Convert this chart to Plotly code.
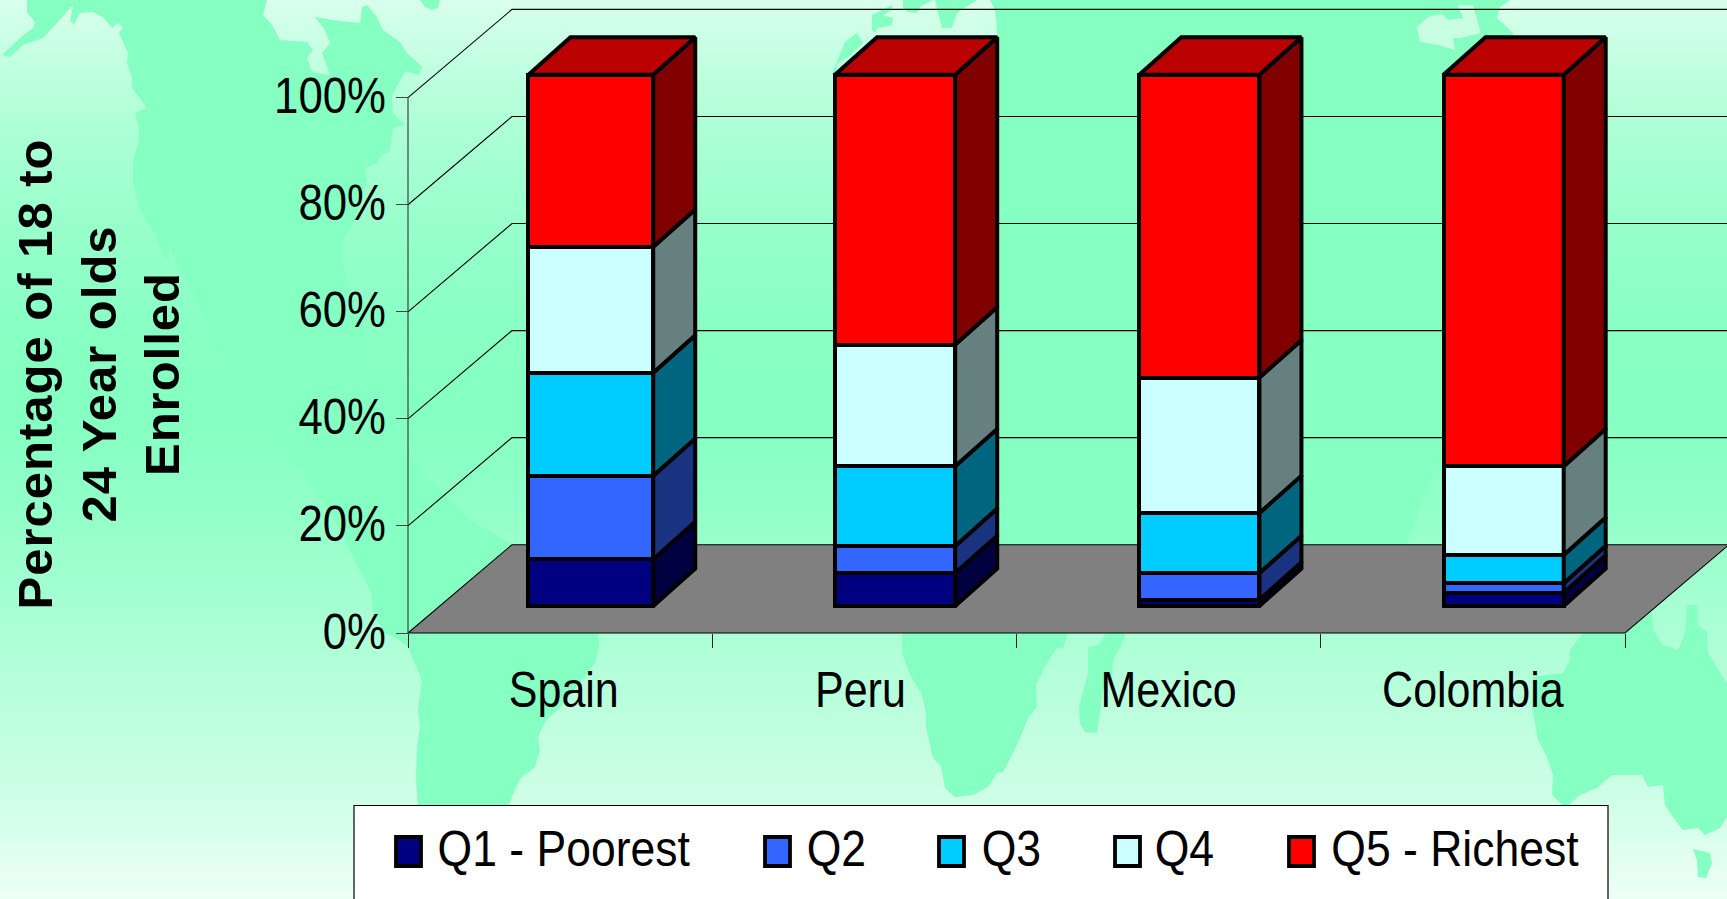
import plotly.graph_objects as go

categories = ["Spain", "Peru", "Mexico", "Colombia"]
series_names = ["Q1 - Poorest", "Q2", "Q3", "Q4", "Q5 - Richest"]
q1 = [8.8, 6.2, 1.2, 2.5]
q2 = [15.7, 5.1, 5.0, 1.8]
q3 = [19.4, 15.0, 11.3, 5.3]
q4 = [23.7, 22.9, 25.5, 16.7]
q5 = [32.4, 50.8, 57.0, 73.7]
series_values = [q1, q2, q3, q4, q5]
y_ticks = [0, 20, 40, 60, 80, 100]

front_colors = ["#000080", "#3366FF", "#00CCFF", "#CCFFFF", "#FF0000"]
side_colors = ["#000040", "#1A3380", "#006680", "#668080", "#800000"]
top_color = "#BB0000"
land = "#85FFC2"

W, H = 1727, 899
AX_X0, AX_Y0, CAT_PX, PCT_PX = 408.0, 633.0, 304.25, 5.353
BAR_Y0, BAR_PCT_PX = 606.0, 5.313
WALL_DX, WALL_DY = 104 / CAT_PX, 88.3 / PCT_PX
BAR_DX, BAR_DY = 42 / CAT_PX, 37.4 / BAR_PCT_PX
BAR_OFFSET = 0.601
BAR_WIDTHS = [0.41, 0.395, 0.395, 0.395]
LABEL_POS = [0.512, 1.487, 2.5, 3.5]
EDGE = 4


def poly(points, color):
    path = "M" + "L".join(f"{x / W:.5f},{1 - y / H:.5f}" for x, y in points) + "Z"
    return dict(type="path", xref="paper", yref="paper", path=path,
                fillcolor=color, line=dict(width=0), layer="below")


# ---------- page background: vertical gradient and world map ----------
stops = [(0, 0xD8), (116, 0xB0), (223, 0x98), (330, 0x88), (420, 0x85),
         (500, 0x90), (633, 0xAB), (700, 0xB9), (805, 0xD0), (899, 0xEE)]


def shade(y):
    for (a, ra), (b, rb) in zip(stops, stops[1:]):
        if a <= y <= b:
            r = ra + (rb - ra) * (y - a) / (b - a)
            return f"rgb({r:.0f},255,{(r + 255) / 2:.0f})"
    return land


shapes = []
BAND = 6
for top in range(0, H, BAND):
    shapes.append(dict(type="rect", xref="paper", yref="paper", x0=0, x1=1,
                       y0=1 - min(top + BAND + 1, H) / H, y1=1 - top / H,
                       fillcolor=shade(top + BAND / 2), line=dict(width=0), layer="below"))

americas = [(27, 0), (27, 12), (35, 22), (33, 28), (20, 38), (2, 55), (10, 57), (23, 45), (43, 38), (57, 23),
            (73, 5), (70, 22), (74, 24), (80, 13), (93, 12), (103, 17), (112, 28), (118, 23), (123, 28), (119, 33),
            (123, 42), (128, 53), (127, 63), (132, 78), (132, 88), (147, 108), (135, 113), (139, 127), (138, 143),
            (133, 160), (133, 183), (140, 210), (157, 237), (163, 257), (167, 260), (170, 248), (177, 263),
            (200, 307), (213, 333), (260, 420), (330, 510), (358, 567), (365, 580), (371, 593), (373, 610),
            (384, 633), (395, 637), (408, 647), (422, 680), (418, 710), (420, 727), (417, 747), (416, 777),
            (418, 810), (507, 810), (516, 787), (521, 778), (535, 767), (540, 750), (538, 737), (546, 720),
            (560, 708), (595, 663), (599, 647), (598, 633), (540, 560), (470, 520), (420, 470), (390, 420),
            (347, 283), (342, 260), (343, 240), (355, 220), (367, 180), (365, 168), (378, 163), (380, 157),
            (390, 150), (393, 128), (405, 125), (393, 113), (392, 97), (397, 86), (405, 72), (408, 72), (419, 75),
            (422, 67), (407, 53), (400, 42), (383, 30), (377, 17), (367, 5), (362, 7), (360, 23), (333, 20),
            (315, 17), (325, 30), (330, 43), (322, 53), (330, 75), (312, 72), (307, 58), (313, 50), (307, 42),
            (280, 40), (272, 25), (263, 15), (267, 0)]
greenland = [(420, 0), (425, 7), (432, 10), (438, 8), (440, 0)]
eu_a = [(845, 42), (857, 33), (863, 43), (848, 57), (838, 63), (835, 74), (832, 74)]
eu_b = [(872, 15), (892, 5), (892, 10), (883, 15), (893, 18), (892, 25), (878, 28), (875, 33), (872, 30)]
eu_c = [(903, 0), (903, 7), (908, 12), (917, 13), (920, 7), (933, 0)]
eu_d = [(935, 0), (938, 13), (942, 28), (952, 28), (957, 13), (977, 0)]
asia = [(990, 0), (995, 10), (998, 40), (998, 560), (1400, 560), (1500, 300), (1520, 90), (1513, 33), (1497, 18),
        (1500, 7), (1510, 0)]
africa = [(902, 620), (902, 652), (910, 675), (922, 695), (926, 713), (926, 727), (933, 758), (941, 766), (945, 788),
          (955, 797), (973, 795), (988, 787), (997, 773), (1003, 772), (1008, 763), (1018, 743), (1028, 718),
          (1037, 707), (1036, 685), (1047, 663), (1057, 648), (1063, 648), (1072, 620)]
india = [(1088, 647), (1098, 645), (1102, 640), (1108, 630), (1127, 630), (1120, 648), (1113, 660), (1112, 675),
         (1103, 690), (1097, 733), (1085, 732), (1080, 723), (1079, 707), (1088, 673)]
east = [(1583, 633), (1570, 650), (1570, 660), (1563, 673), (1533, 677), (1532, 707), (1538, 740), (1547, 757),
        (1553, 775), (1552, 795), (1567, 810), (1572, 802), (1580, 795), (1597, 788), (1612, 775), (1642, 775),
        (1648, 787), (1663, 785), (1665, 805), (1673, 817), (1683, 830), (1698, 828), (1705, 835), (1720, 828),
        (1727, 817), (1727, 683), (1708, 653), (1707, 632), (1698, 625), (1697, 605), (1687, 605), (1685, 633),
        (1678, 650), (1663, 645), (1653, 630), (1652, 613), (1627, 620)]
tasmania = [(1693, 849), (1710, 853), (1712, 863), (1706, 878), (1698, 877), (1697, 860)]
for shape in [americas, greenland, eu_a, eu_b, eu_c, eu_d, asia, africa, india, east, tasmania]:
    shapes.append(poly(shape, land))
caspian = [(1417, 27), (1428, 17), (1442, 14), (1448, 20), (1463, 18), (1458, 5), (1473, 5), (1481, 33), (1460, 38),
           (1453, 38), (1455, 50), (1438, 45), (1420, 42)]
shapes.append(poly(caspian, "#C8FFE2"))

# ---------- traces ----------
fig = go.Figure()
GRID = dict(color="#000000", width=1.1)
n = len(categories)

fig.add_trace(go.Scatter(x=[0, n, n + WALL_DX, WALL_DX, 0], y=[0, 0, WALL_DY, WALL_DY, 0], mode="lines",
                         fill="toself", fillcolor="#808080", line=GRID, hoverinfo="skip", showlegend=False))
for g in y_ticks[1:]:
    fig.add_trace(go.Scatter(x=[0, WALL_DX, n + WALL_DX], y=[g, g + WALL_DY, g + WALL_DY], mode="lines", line=GRID,
                             hoverinfo="skip", showlegend=False))
fig.add_trace(go.Scatter(x=[0, 0], y=[0, 100], mode="lines", line=dict(color="#333333", width=1.1),
                         hoverinfo="skip", showlegend=False))

x_centers = [i + BAR_OFFSET for i in range(n)]
for name, vals, col in zip(series_names, series_values, front_colors):
    fig.add_trace(go.Bar(name=name, x=x_centers, y=vals, width=BAR_WIDTHS, yaxis="y2",
                         marker=dict(color=col, line=dict(color="#000000", width=EDGE)), showlegend=False))

cum = [0.0] * n
for name, vals, col in zip(series_names, series_values, side_colors):
    xs, ys = [], []
    for i, v in enumerate(vals):
        xr = x_centers[i] + BAR_WIDTHS[i] / 2
        a, b = cum[i], cum[i] + v
        xs += [xr, xr + BAR_DX, xr + BAR_DX, xr, xr, None]
        ys += [a, a + BAR_DY, b + BAR_DY, b, a, None]
        cum[i] = b
    fig.add_trace(go.Scatter(x=xs, y=ys, yaxis="y2", mode="lines", fill="toself", fillcolor=col,
                             line=dict(color="#000000", width=EDGE), hoverinfo="skip", showlegend=False))
xs, ys = [], []
for i in range(n):
    xl = x_centers[i] - BAR_WIDTHS[i] / 2
    xr = x_centers[i] + BAR_WIDTHS[i] / 2
    t = cum[i]
    xs += [xl, xr, xr + BAR_DX, xl + BAR_DX, xl, None]
    ys += [t, t, t + BAR_DY, t + BAR_DY, t, None]
fig.add_trace(go.Scatter(x=xs, y=ys, yaxis="y2", mode="lines", fill="toself", fillcolor=top_color,
                         line=dict(color="#000000", width=EDGE), hoverinfo="skip", showlegend=False))

# ---------- legend drawn to the reference's uneven spacing ----------
FONT = "Liberation Sans, Arial, sans-serif"
TXT = 50
shapes.append(dict(type="rect", xref="paper", yref="paper", x0=354 / W, x1=1608 / W, y0=-0.01, y1=1 - 805.5 / H,
                   fillcolor="#FFFFFF", line=dict(color="#000000", width=1.2), layer="above"))
key_x = [394, 763, 937, 1113, 1287]
text_center = [564, 836, 1011, 1184, 1454.5]
annotations = []
for kx, tx, name, col in zip(key_x, text_center, series_names, front_colors):
    shapes.append(dict(type="rect", xref="paper", yref="paper", x0=(kx + 2) / W, x1=(kx + 27) / W,
                       y0=1 - 866 / H, y1=1 - 837 / H, fillcolor=col, line=dict(color="#000000", width=3.8),
                       layer="above"))
    annotations.append(dict(x=tx / W, y=1 - 849 / H, xref="paper", yref="paper", text=name, showarrow=False,
                            xanchor="center", yanchor="middle", font=dict(family=FONT, size=TXT, color="#000000")))

annotations.append(dict(x=98 / W, y=1 - 374 / H, xref="paper", yref="paper", showarrow=False, textangle=-90,
                        text="<b>Percentage of 18 to<br>24 Year olds<br>Enrolled</b>",
                        xanchor="center", yanchor="middle", align="center",
                        font=dict(family=FONT, size=49, color="#000000")))

fig.update_layout(
    width=W, height=H, margin=dict(l=0, r=0, t=0, b=0, pad=0, autoexpand=False),
    paper_bgcolor=land, plot_bgcolor="rgba(0,0,0,0)", barmode="stack", bargap=0,
    showlegend=False, shapes=shapes, annotations=annotations,
    xaxis=dict(range=[-AX_X0 / CAT_PX, (W - AX_X0) / CAT_PX], anchor="free", position=1 - AX_Y0 / H,
               tickmode="array", tickvals=LABEL_POS, ticktext=categories, ticks="",
               ticklabelstandoff=23, showgrid=False, zeroline=False, showline=False,
               tickfont=dict(family=FONT, size=TXT, color="#000000"),
               minor=dict(tickmode="array", tickvals=list(range(n + 1)), ticks="outside", ticklen=14,
                          tickcolor="#222222", tickwidth=1, showgrid=False)),
    yaxis=dict(range=[-(H - AX_Y0) / PCT_PX, AX_Y0 / PCT_PX], anchor="free", position=AX_X0 / W,
               tickmode="array", tickvals=y_ticks, ticktext=[f"{t}%" for t in y_ticks], ticks="outside",
               ticklen=12, tickcolor="#444444", tickwidth=1, ticklabelstandoff=0, ticklabelshift=-2,
               showgrid=False, zeroline=False, showline=False,
               tickfont=dict(family=FONT, size=TXT, color="#000000")),
    yaxis2=dict(range=[-(H - BAR_Y0) / BAR_PCT_PX, BAR_Y0 / BAR_PCT_PX], overlaying="y", visible=False,
                anchor="x"),
)

# The reference's text is squeezed horizontally; no condensed font is installed, so fit the real text to width.
post = """
document.body.style.margin='0';document.body.style.overflow='hidden';
(function(){
  function fit(el,k){ if(el.dataset.fit) return; el.dataset.fit='1';
    el.setAttribute('textLength', (el.getComputedTextLength()*k).toFixed(1));
    el.setAttribute('lengthAdjust','spacingAndGlyphs'); }
  function run(){
    document.querySelectorAll('.xtick text').forEach(function(t){fit(t,0.86);});
    document.querySelectorAll('.ytick text').forEach(function(t){fit(t,0.875);});
    document.querySelectorAll('.annotation-text').forEach(function(t){
      if(t.textContent.indexOf('Percentage')===0){ t.style.letterSpacing='1px'; }
      else { fit(t,0.89); }
    });
  }
  run(); setTimeout(run,200);
})();
"""
fig.write_html("out.html", config={"displayModeBar": False}, post_script=post)
